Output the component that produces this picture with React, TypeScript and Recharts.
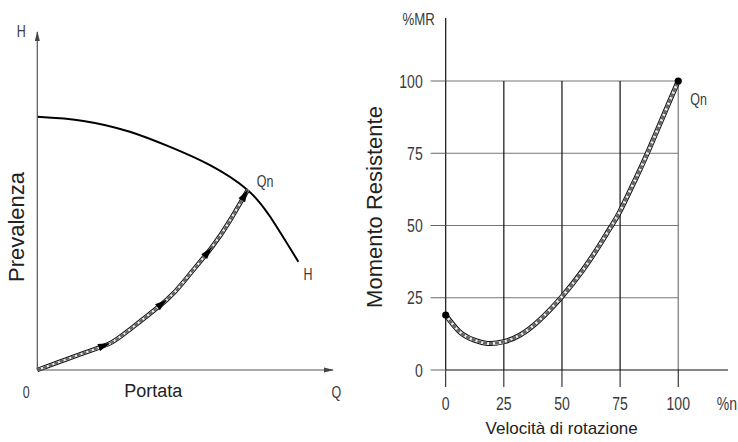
import React from 'react';
import { LineChart, Line, XAxis, YAxis, ReferenceLine, ReferenceDot } from 'recharts';

// left panel: pump head curve H(Q) and system curve, both in % of the axes
const headQ = [0, 15.6, 31.3, 44.9, 58.4, 70.8, 78.7, 88.3];
const headH = [74.9, 73.7, 70.5, 66.0, 60.6, 53.5, 45.4, 32.0];
const systemQ = [0, 15.6, 24.6, 31.3, 43.8, 50.5, 59.0, 65.2, 71.2];
const systemH = [0, 5.0, 7.9, 12.0, 20.8, 27.2, 36.3, 44.3, 53.3];
const arrowAt = [24.6, 43.8, 59.0, 71.2];

// right panel: resisting torque (%MR) vs rotation speed (%n)
const speed = [0, 6, 12, 18, 25, 32, 40, 50, 59, 66, 71, 75, 81, 87, 100];
const torque = [19, 13.2, 10.4, 9.2, 9.8, 12.1, 17.0, 25.4, 34.6, 43, 49.5, 55, 65, 75.5, 100];
const gridTicks = [0, 25, 50, 75, 100];

const headData = headQ.map((x, i) => ({ x, y: headH[i] }));
const systemData = systemQ.map((x, i) => ({ x, y: systemH[i], arrow: arrowAt.includes(x) }));
const torqueData = speed.map((x, i) => ({ x, y: torque[i] }));

const arial = "'Liberation Sans', Arial, sans-serif";
const ink = '#222';

// the drawing uses a thin condensed CAD font: squeeze Liberation Sans horizontally
const Narrow = ({ x, y, size = 16, anchor = 'start', children }: any) => (
  <text
    transform={`translate(${x},${y}) scale(0.78,1)`}
    textAnchor={anchor}
    fontFamily={arial}
    fontSize={size}
    fill="#3a3a3a"
  >
    {children}
  </text>
);

const YTick = (p: any) => (
  <Narrow x={p.x} y={p.y + 6.5} size={18} anchor="end">{p.payload.value}</Narrow>
);
const XTick = (p: any) => (
  <Narrow x={p.x} y={p.y + 13} size={18} anchor="middle">{p.payload.value}</Narrow>
);

const ArrowDot = (props: any) => {
  const { cx, cy, index, points, payload } = props;
  if (!payload || !payload.arrow || !points || index === 0) return <g key={`a${index}`} />;
  const prev = points[index - 1];
  const ang = (Math.atan2(cy - prev.y, cx - prev.x) * 180) / Math.PI;
  return (
    <polygon
      key={`a${index}`}
      points="0,0 -12,-3.8 -12,3.8"
      fill="#000"
      transform={`translate(${cx},${cy}) rotate(${ang})`}
    />
  );
};

const EndDot = (props: any) => {
  const { cx, cy, index, points } = props;
  const last = points ? points.length - 1 : speed.length - 1;
  if (index !== 0 && index !== last) return <g key={`d${index}`} />;
  return <circle key={`d${index}`} cx={cx} cy={cy} r={3.6} fill="#000" />;
};

// hatched double-line look: dark outline, white core, grey dashes
const band = (data: any[], id: string, width: number, dot: any) => [
  <Line key={`${id}o`} data={data} dataKey="y" type="natural" stroke="#111" strokeWidth={width} dot={false} isAnimationActive={false} />,
  <Line key={`${id}w`} data={data} dataKey="y" type="natural" stroke="#eee" strokeWidth={width - 2} dot={false} isAnimationActive={false} />,
  <Line key={`${id}g`} data={data} dataKey="y" type="natural" stroke="#666" strokeWidth={width - 2} strokeDasharray="4 2" dot={dot} isAnimationActive={false} />,
];

const note = (text: string, dx: number, dy: number, size = 16) => (p: any) => {
  const vb = p.viewBox || { x: 0, y: 0 };
  return <Narrow x={vb.x + dx} y={vb.y + dy} size={size}>{text}</Narrow>;
};

const AxisArrow = (dir: 'up' | 'right') => (p: any) => {
  const { cx, cy } = p;
  const pts = dir === 'up'
    ? `${cx},${cy - 1} ${cx - 2.5},${cy + 9} ${cx + 2.5},${cy + 9}`
    : `${cx + 1},${cy} ${cx - 9},${cy - 2.5} ${cx - 9},${cy + 2.5}`;
  return <polygon points={pts} fill="#444" />;
};

const leftYLabel = (p: any) => {
  const { x, y } = p.viewBox;
  return (
    <g>
      <Narrow x={x - 15} y={y + 5} size={16} anchor="middle">H</Narrow>
      <text transform={`translate(${x - 12.5},${y + 195}) rotate(-90)`} textAnchor="middle" fontFamily={arial} fontSize={22} fill={ink}>
        Prevalenza
      </text>
    </g>
  );
};

const leftXLabel = (p: any) => {
  const { x, y } = p.viewBox;
  return (
    <g>
      <Narrow x={x - 11} y={y + 28} size={16} anchor="middle">0</Narrow>
      <text x={x + 116} y={y + 27} textAnchor="middle" fontFamily={arial} fontSize={18} fill={ink}>Portata</text>
      <Narrow x={x + 299} y={y + 28} size={16} anchor="middle">Q</Narrow>
    </g>
  );
};

const rightYLabel = (p: any) => {
  const { x, y } = p.viewBox;
  return (
    <g>
      <Narrow x={x - 26} y={y + 7} size={17} anchor="middle">%MR</Narrow>
      <text transform={`translate(${x - 62.5},${y + 189}) rotate(-90)`} textAnchor="middle" fontFamily={arial} fontSize={22} fill={ink}>
        Momento Resistente
      </text>
    </g>
  );
};

const rightXLabel = (p: any) => {
  const { x, y } = p.viewBox;
  return (
    <g>
      <Narrow x={x + 271} y={y + 40} size={18}>%n</Narrow>
      <text x={x + 116} y={y + 64} textAnchor="middle" fontFamily={arial} fontSize={17} fill={ink}>
        Velocità di rotazione
      </text>
    </g>
  );
};

export default function App() {
  return (
    <div style={{ position: 'absolute', left: 0, top: 0, width: 738, height: 442, background: '#fff' }}>
      <div style={{ position: 'absolute', left: 0, top: 0 }}>
        <LineChart width={360} height={442} margin={{ top: 32, right: 27, bottom: 71, left: 36.3 }}>
          <XAxis type="number" dataKey="x" domain={[0, 100]} height={1} tick={false} tickLine={false}
            axisLine={{ stroke: '#555', strokeWidth: 1.2 }} label={{ content: leftXLabel }} />
          <YAxis type="number" dataKey="y" domain={[0, 100]} width={1} tick={false} tickLine={false}
            axisLine={{ stroke: '#555', strokeWidth: 1.2 }} label={{ content: leftYLabel }} />
          <ReferenceDot x={100} y={0} r={0} ifOverflow="visible" shape={AxisArrow('right')} />
          <ReferenceDot x={0} y={100} r={0} ifOverflow="visible" shape={AxisArrow('up')} />
          <Line data={headData} dataKey="y" type="natural" stroke="#000" strokeWidth={2} dot={false} isAnimationActive={false} />
          {band(systemData, 'sys', 4.5, ArrowDot)}
          <ReferenceDot x={71.2} y={53.3} r={0} ifOverflow="visible" label={{ content: note('Qn', 9, -3) }} />
          <ReferenceDot x={88.3} y={32.0} r={0} ifOverflow="visible" label={{ content: note('H', 5, 18) }} />
        </LineChart>
      </div>
      <div style={{ position: 'absolute', left: 360, top: 0 }}>
        <LineChart width={378} height={442} margin={{ top: 18, right: 10, bottom: 71, left: 84.7 }}>
          <XAxis type="number" dataKey="x" domain={[0, 121.4]} ticks={gridTicks} height={1}
            tickSize={17} tickMargin={10} tick={XTick} tickLine={{ stroke: '#111' }}
            axisLine={{ stroke: '#111', strokeWidth: 1.2 }} label={{ content: rightXLabel }} />
          <YAxis type="number" dataKey="y" domain={[0, 121.8]} ticks={gridTicks} width={1}
            tickSize={15} tickMargin={8} tick={YTick} tickLine={{ stroke: '#666' }}
            axisLine={{ stroke: '#111', strokeWidth: 1.2 }} label={{ content: rightYLabel }} />
          {gridTicks.slice(1).map((v) => (
            <ReferenceLine key={`h${v}`} segment={[{ x: 0, y: v }, { x: 100, y: v }]} stroke="#777" strokeWidth={1.2} ifOverflow="visible" />
          ))}
          {gridTicks.slice(1).map((v) => (
            <ReferenceLine key={`v${v}`} segment={[{ x: v, y: 0 }, { x: v, y: 100 }]} stroke={v === 100 ? '#777' : '#111'} strokeWidth={1.2} ifOverflow="visible" />
          ))}
          {band(torqueData, 'mr', 5, EndDot)}
          <ReferenceDot x={100} y={100} r={0} ifOverflow="visible" label={{ content: note('Qn', 12, 24) }} />
        </LineChart>
      </div>
    </div>
  );
}
